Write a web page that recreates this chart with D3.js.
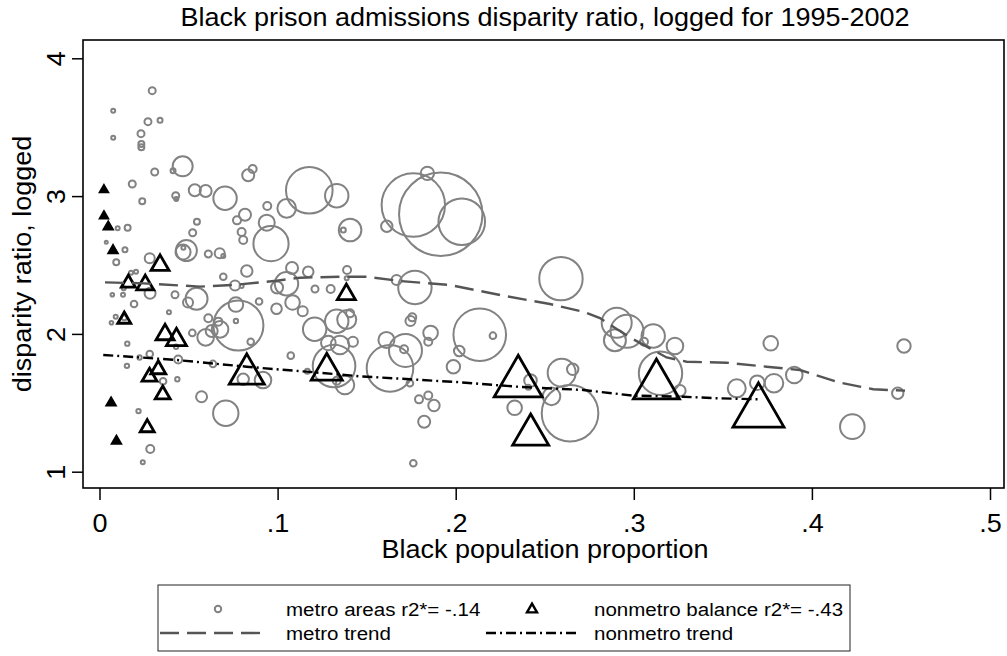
<!DOCTYPE html>
<html><head><meta charset="utf-8">
<script src="https://cdn.jsdelivr.net/npm/d3@7"></script>
<style>body{margin:0;background:#fff} svg{display:block} text{font-family:"Liberation Sans",Arial,sans-serif;fill:#000}</style>
</head><body><svg id="c" width="1007" height="656"></svg>
<script>
// ---- data: [black population proportion, logged disparity ratio, population weight] ----
const metroAreas = [
[0.0296,3.765,49],[0.0077,3.620,16],[0.0272,3.540,49],[0.0340,3.550,25],[0.0077,3.424,16],
[0.0233,3.453,49],[0.0235,3.378,36],[0.0235,3.354,36],[0.0467,3.216,400],[0.0413,3.184,25],
[0.0310,3.175,49],[0.0184,3.088,49],[0.0240,2.962,36],[0.0428,3.003,49],[0.0431,2.979,16],
[0.0535,3.042,144],[0.0596,3.037,144],[0.0705,2.984,548],[0.0102,2.766,16],[0.0158,2.771,36],
[0.0547,2.814,36],[0.0523,2.734,49],[0.0038,2.665,9],[0.0143,2.611,25],[0.0094,2.520,36],
[0.0488,2.605,441],[0.0469,2.594,225],[0.0471,2.626,16],[0.0611,2.580,49],[0.0675,2.585,100],
[0.0282,2.549,100],[0.0835,3.151,144],[0.0860,3.197,64],[0.0942,2.928,64],[0.1178,3.042,2172],
[0.1332,3.003,548],[0.1051,2.911,346],[0.0817,2.865,144],[0.0772,2.824,64],[0.0939,2.807,256],
[0.0798,2.739,64],[0.0807,2.681,64],[0.0963,2.655,1239],[0.1407,2.754,511],[0.1369,2.754,25],
[0.1762,2.935,4020],[0.1916,2.868,6956],[0.2034,2.814,2172],[0.1841,3.165,180],[0.1613,2.781,130],
[0.0695,2.565,16],[0.0695,2.415,44],[0.0827,2.456,130],[0.1081,2.478,144],[0.1172,2.451,112],
[0.1390,2.464,64],[0.1388,2.403,16],[0.1668,2.391,100],[0.1771,2.337,1116],[0.0761,2.351,100],
[0.0798,2.348,16],[0.1210,2.326,49],[0.1298,2.326,64],[0.1050,2.364,548],[0.0997,2.337,144],
[0.0284,2.295,121],[0.0072,2.284,13],[0.0132,2.284,16],[0.0136,2.331,16],[0.0194,2.217,44],
[0.0177,2.444,16],[0.0205,2.451,16],[0.0424,2.284,49],[0.0497,2.228,100],[0.0545,2.255,484],
[0.0390,2.157,16],[0.0067,2.081,13],[0.0091,2.125,16],[0.0139,2.118,25],[0.0156,1.929,19],
[0.0521,2.007,44],[0.0611,2.113,64],[0.0667,2.089,64],[0.0630,2.021,144],[0.0596,1.975,276],
[0.0677,2.033,276],[0.0780,2.061,2500],[0.0766,2.213,213],[0.0766,2.094,19],[0.0849,1.943,44],
[0.0896,2.235,44],[0.0994,2.183,112],[0.1084,2.228,213],[0.1141,2.164,100],[0.1208,2.034,548],
[0.1332,2.092,548],[0.1388,2.104,361],[0.1407,2.149,64],[0.1285,1.934,213],[0.1350,1.919,346],
[0.1423,1.943,100],[0.0225,1.829,19],[0.0282,1.854,44],[0.0154,1.768,19],[0.0442,1.814,64],
[0.0637,1.782,44],[0.0357,1.656,44],[0.0437,1.671,19],[0.0573,1.544,121],[0.0219,1.440,19],
[0.0709,1.424,645],[0.0285,1.165,64],[0.0243,1.069,16],[0.0807,1.671,130],[0.0918,1.665,276],
[0.1074,1.842,44],[0.1167,1.729,25],[0.1317,1.767,1815],[0.1378,1.629,346],[0.1332,1.660,64],
[0.1631,1.750,2172],[0.1718,1.880,1089],[0.1710,1.888,64],[0.1611,1.956,256],[0.1746,2.094,100],
[0.1756,2.120,64],[0.1859,2.007,213],[0.1846,1.943,64],[0.1743,1.642,44],[0.1794,1.525,64],
[0.1846,1.553,64],[0.1878,1.480,130],[0.1823,1.363,144],[0.1762,1.061,44],[0.1987,1.762,180],
[0.2020,1.876,112],[0.2135,1.994,2767],[0.2209,1.987,44],[0.2420,1.662,159],[0.2408,1.612,25],
[0.2595,1.718,784],[0.2657,1.743,130],[0.2538,1.547,310],[0.2642,1.424,3204],[0.2331,1.464,213],
[0.2591,2.401,1884],[0.2904,2.081,900],[0.2962,2.019,1089],[0.2894,1.954,484],[0.3109,1.985,548],
[0.3057,1.943,64],[0.3231,1.912,276],[0.3150,1.714,1884],[0.3259,1.588,130],[0.3769,1.932,213],
[0.3578,1.605,324],[0.3693,1.646,213],[0.3787,1.642,346],[0.3901,1.702,276],[0.4227,1.327,605],
[0.4517,1.912,180],[0.4482,1.569,130],[0.0430,1.907,19]
];
const nonmetroBalance = [
[0.0025,3.052,37],[0.0025,2.863,37],[0.0049,2.785,48],[0.0076,2.614,48],[0.0065,1.508,48],
[0.0095,1.230,48],[0.0162,2.384,148],[0.0257,2.373,219],[0.0139,2.118,128],[0.0340,2.517,245],
[0.0368,2.014,245],[0.0432,1.978,302],[0.0330,1.758,170],[0.0281,1.704,170],[0.0355,1.575,170],
[0.0268,1.334,148],[0.0827,1.745,926],[0.1276,1.762,727],[0.1386,2.306,245],[0.2351,1.694,1742],
[0.2421,1.306,980],[0.3127,1.673,1600],[0.3700,1.484,1967]
];
const metroTrend = [
[0.0031,2.374],[0.0246,2.367],[0.0564,2.343],[0.0751,2.355],[0.0995,2.386],[0.1126,2.408],
[0.1350,2.415],[0.1500,2.415],[0.1687,2.384],[0.1968,2.355],[0.2249,2.282],[0.2529,2.217],
[0.2716,2.161],[0.2810,2.115],[0.2904,2.035],[0.2996,1.962],[0.3091,1.895],[0.3184,1.829],
[0.3297,1.798],[0.3521,1.791],[0.3746,1.762],[0.3933,1.738],[0.4158,1.646],[0.4345,1.598],[0.4523,1.588]
];
const nonmetroTrend = [
[0.0021,1.847],[0.0218,1.830],[0.0433,1.811],[0.0637,1.785],[0.0827,1.762],[0.0995,1.743],
[0.1163,1.726],[0.1463,1.692],[0.1744,1.671],[0.2024,1.649],[0.2342,1.617],[0.2716,1.593],
[0.2997,1.552],[0.3278,1.544],[0.3465,1.533],[0.3709,1.525]
];
const xTicks = [0, 0.1, 0.2, 0.3, 0.4, 0.5];
const yTicks = [1, 2, 3, 4];
const titleText = "Black prison admissions disparity ratio, logged for 1995-2002";
const xTitle = "Black population proportion";
const yTitle = "disparity ratio, logged";
const legendLabels = ["metro areas r2*= -.14", "nonmetro balance r2*= -.43", "metro trend", "nonmetro trend"];

// ---- layout ----
const svg = d3.select("#c");
const frame = {l: 83, r: 1004, t: 40, b: 488};
const x = d3.scaleLinear().domain([0, 0.5]).range([99.5, 990]);
const y = d3.scaleLinear().domain([1, 4]).range([471.7, 58.3]);
const rad = d3.scaleSqrt().domain([0, 10000]).range([0, 50]);
const SX = 1.08; // horizontal stretch of text
const GREY = "#828282";

function tri(side) {
  const h = side * 0.866;
  return `M0,${-h/2}L${side/2},${h/2}L${-side/2},${h/2}Z`;
}
function txt(g, s, px, py, size, anchor, rot) {
  return g.append("text").text(s)
    .attr("transform", `translate(${px},${py})` + (rot ? ` rotate(${rot})` : "") + ` scale(${SX},1)`)
    .attr("text-anchor", anchor).attr("dominant-baseline", "central")
    .style("font-size", size + "px");
}

// title
txt(svg, titleText, 545, 17, 25, "middle");

// frame
svg.append("rect").attr("x", frame.l).attr("y", frame.t)
  .attr("width", frame.r - frame.l).attr("height", frame.b - frame.t)
  .attr("fill", "none").attr("stroke", "#000").attr("stroke-width", 1.6);

// axes
const yAxis = svg.append("g").attr("transform", `translate(${frame.l},0)`)
  .call(d3.axisLeft(y).tickValues(yTicks).tickSize(11).tickFormat(d3.format("d")));
yAxis.select(".domain").remove();
yAxis.selectAll(".tick line").attr("stroke", "#000").attr("stroke-width", 1.5);
yAxis.selectAll(".tick text").remove();
yAxis.selectAll(".tick").each(function(d) {
  txt(d3.select(this), d3.format("d")(d), -27, 0, 25, "middle", -90);
});

const xfmt = d => d === 0 ? "0" : d3.format(".1f")(d).replace(/^0/, "");
const xAxis = svg.append("g").attr("transform", `translate(0,${frame.b})`)
  .call(d3.axisBottom(x).tickValues(xTicks).tickSize(12).tickFormat(xfmt));
xAxis.select(".domain").remove();
xAxis.selectAll(".tick line").attr("stroke", "#000").attr("stroke-width", 1.5);
xAxis.selectAll(".tick text").remove();
xAxis.selectAll(".tick").each(function(d) {
  txt(d3.select(this), xfmt(d), 0, 35, 25, "middle");
});

txt(svg, xTitle, 545, 549, 25, "middle");
txt(svg, yTitle, 22, 264, 25, "middle", -90);

// marks
const plot = svg.append("g");
plot.selectAll("circle.m").data(metroAreas).join("circle").attr("class", "m")
  .attr("cx", d => x(d[0])).attr("cy", d => y(d[1])).attr("r", d => rad(d[2]))
  .attr("fill", "none").attr("stroke", GREY).attr("stroke-width", 2);

plot.selectAll("path.n").data(nonmetroBalance).join("path").attr("class", "n")
  .attr("transform", d => `translate(${x(d[0])},${y(d[1])})`)
  .attr("d", d => tri(2.3 * rad(d[2])))
  .attr("fill", d => 2.3 * rad(d[2]) < 10 ? "#000" : "none")
  .attr("stroke", "#000").attr("stroke-width", 2.8).attr("stroke-linejoin", "miter");

const line = d3.line().x(d => x(d[0])).y(d => y(d[1]));
plot.append("path").datum(metroTrend).attr("d", line)
  .attr("fill", "none").attr("stroke", "#555").attr("stroke-width", 2.4).attr("stroke-dasharray", "19,8");
plot.append("path").datum(nonmetroTrend).attr("d", line)
  .attr("fill", "none").attr("stroke", "#000").attr("stroke-width", 2.4).attr("stroke-dasharray", "10,4,2,4");

// legend
const lg = svg.append("g");
lg.append("rect").attr("x", 158).attr("y", 585).attr("width", 692).attr("height", 66)
  .attr("fill", "#fff").attr("stroke", "#222").attr("stroke-width", 1);
lg.append("circle").attr("cx", 218).attr("cy", 609).attr("r", 3.2)
  .attr("fill", "none").attr("stroke", GREY).attr("stroke-width", 2);
lg.append("path").attr("transform", "translate(532,608)").attr("d", tri(10))
  .attr("fill", "none").attr("stroke", "#000").attr("stroke-width", 2.4);
lg.append("line").attr("x1", 160).attr("x2", 262).attr("y1", 633).attr("y2", 633)
  .attr("stroke", "#555").attr("stroke-width", 2.4).attr("stroke-dasharray", "19,8");
lg.append("line").attr("x1", 486).attr("x2", 578).attr("y1", 633).attr("y2", 633)
  .attr("stroke", "#000").attr("stroke-width", 2.4).attr("stroke-dasharray", "10,4,2,4");
txt(lg, legendLabels[0], 286, 609, 19, "start");
txt(lg, legendLabels[1], 594, 609, 19, "start");
txt(lg, legendLabels[2], 286, 633, 19, "start");
txt(lg, legendLabels[3], 594, 633, 19, "start");
</script>
</body></html>
